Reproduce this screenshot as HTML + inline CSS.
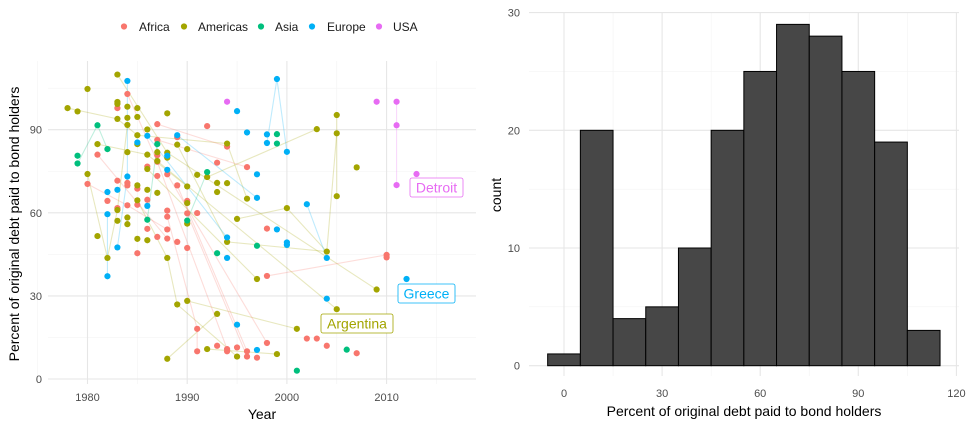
<!DOCTYPE html>
<html><head><meta charset="utf-8"><style>
body{margin:0;background:#fff;width:967px;height:426px;overflow:hidden;font-family:"Liberation Sans",sans-serif}
svg text{font-family:"Liberation Sans",sans-serif}
</style></head><body>
<svg id="c" width="967" height="426" xmlns="http://www.w3.org/2000/svg"></svg>
<script>
// ---- scatter data ----
const regions = ["Africa","Americas","Asia","Europe","USA"];
const regionColors = ["#F8766D","#A3A500","#00BF7D","#00B0F6","#E76BF3"];
const americasPts = [[1978,97.8],[1979,96.6],[1980,104.7],[1980,74],[1981,84.8],[1981,51.6],[1982,43.7],[1983,109.9],[1983,100],[1983,99.3],[1983,93.9],[1983,61],[1983,57.1],[1984,98.3],[1984,94.3],[1984,91.7],[1984,81.9],[1984,58.3],[1984,55.9],[1985,97.8],[1985,94.6],[1985,88],[1985,84.8],[1985,69.9],[1985,64.5],[1985,50.6],[1986,90.1],[1986,81],[1986,75.8],[1986,68.3],[1986,50.1],[1987,81.9],[1987,78.7],[1987,67.2],[1988,95.9],[1988,81.7],[1988,79.9],[1988,43.7],[1988,7.3],[1989,84.6],[1989,26.9],[1990,83],[1990,69.5],[1990,63.5],[1990,56.1],[1990,28.2],[1991,73.7],[1992,72.9],[1992,10.8],[1993,70.8],[1993,67.5],[1993,23.5],[1994,85],[1994,70.7],[1994,49.5],[1995,57.8],[1995,8.1],[1996,65.1],[1997,36.1],[1999,9],[2000,61.7],[2001,18.1],[2003,90.2],[2004,46],[2005,95.3],[2005,88.7],[2005,66],[2005,25.2],[2007,76.4],[2009,32.3]];
const africaPts = [[1980,70.4],[1981,81],[1982,64.3],[1983,97.8],[1983,71.6],[1983,61.7],[1984,102.9],[1984,70.8],[1984,69.9],[1984,62.7],[1985,68.7],[1985,62.9],[1985,45.4],[1986,76.7],[1986,64.7],[1986,54.2],[1987,92],[1987,86.3],[1987,80.8],[1987,78.4],[1987,73.3],[1987,51.3],[1988,73.9],[1988,60.8],[1988,58.6],[1988,54],[1988,50.7],[1989,87.3],[1989,69.9],[1989,49.5],[1990,64.3],[1990,59.8],[1990,47.3],[1991,59.9],[1991,18.1],[1991,10],[1992,91.3],[1993,78.1],[1993,12],[1994,83.9],[1994,10.8],[1994,10],[1995,11.4],[1996,76.5],[1996,10],[1996,8.1],[1997,7.7],[1998,54.3],[1998,37.2],[1998,13],[2002,14.6],[2003,14.6],[2004,12],[2007,9.3],[2010,44.8],[2010,43.9]];
const asiaPts = [[1979,80.6],[1979,77.8],[1981,91.6],[1982,83],[1986,57.5],[1987,84.8],[1990,57.2],[1992,74.7],[1993,45.4],[1997,48.1],[1999,88.4],[1999,85],[2001,3],[2006,10.6]];
const europePts = [[1982,67.5],[1982,59.5],[1982,37.1],[1983,68.3],[1983,47.5],[1984,107.6],[1984,73.1],[1985,85.4],[1986,87.8],[1986,62.5],[1988,75.5],[1988,80.6],[1989,88],[1994,51.1],[1994,43.7],[1995,96.7],[1995,19.6],[1996,89],[1997,73.9],[1997,65.4],[1997,10.5],[1998,88.3],[1998,85.2],[1999,108.3],[1999,54],[2000,82],[2000,49.3],[2000,48.4],[2002,63.1],[2004,29],[2004,43.7],[2012,36.1]];
const usaPts = [[1994,100.1],[2009,100.1],[2011,100.1],[2011,91.6],[2011,70],[2013,74]];
// country paths: [region index, year, value, year, value, ...]
const countryPaths = [
 [1,1980,74,1982,43.7,1983,61,1984,91.7],[1,1981,84.8,1986,81,1990,69.5],[1,1988,7.3,1993,23.5],[1,1990,28.2,2001,18.1],
 [1,1992,72.9,2003,90.2],[1,1995,57.8,2000,61.7,2004,46,2005,88.7],[1,2005,95.3,2005,66],[1,1989,84.6,1994,49.5,2004,46],
 [1,1988,81.7,2009,32.3],[1,1987,78.7,2005,25.2],[1,1992,10.8,1999,9],[1,1994,85,1996,65.1],[1,1986,75.8,1997,36.1],
 [1,1978,97.8,1983,93.9,1985,88,1994,85],[1,1983,109.9,1988,81.7],[1,1985,64.5,1988,43.7,1989,26.9,1995,8.1],
 [0,1980,70.4,1984,62.7,1988,54],[0,1981,81,1988,50.7],[0,1998,37.2,2010,44.8],[0,1987,92,1994,83.9],[0,1987,86.3,1996,76.5],
 [0,1988,73.9,1998,13],[0,1988,58.6,1991,18.1,1991,10],[0,1990,59.8,1996,8.1],[0,1984,102.9,1987,78.4,1994,10.8],[0,1989,69.9,1996,10],
 [3,1982,59.5,1982,37.1],[3,1983,47.5,1984,73.1,1984,107.6],[3,1998,85.2,1999,108.3,2000,82],[3,2002,63.1,2004,43.7],[3,1986,87.8,1994,51.1],[3,1989,88,1997,65.4],
 [2,1979,77.8,1981,91.6,1982,83],[2,1990,57.2,1992,74.7],[2,1986,57.5,1987,84.8],
 [4,2011,100.1,2011,70]
];
// ---- histogram data ----
const binCenters = [0,10,20,30,40,50,60,70,80,90,100,110];
const binCounts = [1,20,4,5,10,20,25,29,28,25,19,3];
const histXTicks = [0,30,60,90,120];
const histYTicks = [0,10,20,30];
const yearTicks = [1980,1990,2000,2010];
const pctTicks = [0,30,60,90];

const NS="http://www.w3.org/2000/svg";
const svg=document.getElementById('c');
function mk(tag,attrs,parent){const e=document.createElementNS(NS,tag);for(const k in attrs)e.setAttribute(k,attrs[k]);(parent||svg).appendChild(e);return e;}

// ===== left scatter =====
const L={x0:48,x1:476,y0:61,y1:384};
const sx=y=>87.5+(y-1980)*9.97;
const sy=v=>379-v*2.77;
const gL=mk('g',{});


for(let v=15;v<=105;v+=30){const l=mk('line',{x1:L.x0,x2:L.x1,y1:sy(v),y2:sy(v),stroke:'#f3f3f3','stroke-width':0.6},gL);}
for(let y=1975;y<=2015;y+=10){const l=mk('line',{x1:sx(y),x2:sx(y),y1:L.y0,y2:L.y1,stroke:'#f3f3f3','stroke-width':0.6},gL);}
pctTicks.forEach(v=>{const l=mk('line',{x1:L.x0,x2:L.x1,y1:sy(v),y2:sy(v),stroke:'#e6e6e6','stroke-width':1.1},gL);
 const t=mk('text',{x:42,y:sy(v)+4,'text-anchor':'end','font-size':11,fill:'#4d4d4d'},gL);t.textContent=v;});
yearTicks.forEach(y=>{const l=mk('line',{x1:sx(y),x2:sx(y),y1:L.y0,y2:L.y1,stroke:'#e6e6e6','stroke-width':1.1},gL);
 const t=mk('text',{x:sx(y),y:401,'text-anchor':'middle','font-size':11,fill:'#4d4d4d'},gL);t.textContent=y;});
countryPaths.forEach(p=>{const r=p[0];let pts=[];for(let i=1;i<p.length;i+=2)pts.push(sx(p[i])+','+sy(p[i+1]));
 const pl=mk('polyline',{points:pts.join(' '),fill:'none',stroke:regionColors[r],'stroke-opacity':0.25,'stroke-width':1.1},gL);
 });
[africaPts,americasPts,asiaPts,europePts,usaPts].forEach((arr,r)=>arr.forEach(d=>{
 const c=mk('circle',{cx:sx(d[0]),cy:sy(d[1]),r:3.1,fill:regionColors[r]},gL);
 }));
function lab(txt,x,y,w,col,name){const g=mk('g',{},gL);
 mk('rect',{x:x,y:y,width:w,height:19,rx:2,fill:'#fff',stroke:col,'stroke-width':0.8},g);
 const t=mk('text',{x:x+w/2,y:y+14.5,'text-anchor':'middle','font-size':14,fill:col},g);t.textContent=txt;}
lab('Detroit',410,178,53,regionColors[4],'detroit-label');
lab('Greece',398,284,57,regionColors[3],'greece-label');
lab('Argentina',321,314,72,regionColors[1],'argentina-label');
let t=mk('text',{x:262,y:419,'text-anchor':'middle','font-size':14,fill:'#000'});t.textContent='Year';
t=mk('text',{x:0,y:0,'text-anchor':'middle','font-size':14,fill:'#000',transform:'translate(19,224) rotate(-90)'});t.textContent='Percent of original debt paid to bond holders';
// legend
const legX=[[124,139],[184,198],[261,275],[312,327],[379,393]];
const gLeg=mk('g',{});
regions.forEach((r,i)=>{const g=mk('g',{},gLeg);
 mk('circle',{cx:legX[i][0],cy:26.5,r:3.1,fill:regionColors[i]},g);
 const tt=mk('text',{x:legX[i][1],y:31,'font-size':12,fill:'#1a1a1a'},g);tt.textContent=r;});

// ===== right histogram =====
const R={x0:529,x1:959,y0:12,y1:376};
const hx=v=>564+v*3.27;
const hy=c=>365.7-c*11.77;
const gR=mk('g',{});
for(let v=15;v<=105;v+=30){const l=mk('line',{x1:hx(v),x2:hx(v),y1:R.y0,y2:R.y1,stroke:'#f3f3f3','stroke-width':0.6},gR);}
for(let c=5;c<=25;c+=10){const l=mk('line',{x1:R.x0,x2:R.x1,y1:hy(c),y2:hy(c),stroke:'#f3f3f3','stroke-width':0.6},gR);}
histXTicks.forEach(v=>{const l=mk('line',{x1:hx(v),x2:hx(v),y1:R.y0,y2:R.y1,stroke:'#e6e6e6','stroke-width':1.1},gR);
 const tt=mk('text',{x:hx(v),y:397,'text-anchor':'middle','font-size':11,fill:'#4d4d4d'},gR);tt.textContent=v;});
histYTicks.forEach(c=>{const l=mk('line',{x1:R.x0,x2:R.x1,y1:hy(c),y2:hy(c),stroke:'#e6e6e6','stroke-width':1.1},gR);
 const tt=mk('text',{x:520,y:hy(c)+4,'text-anchor':'end','font-size':11,fill:'#4d4d4d'},gR);tt.textContent=c;});
binCenters.forEach((b,i)=>{const x0=hx(b-5),x1=hx(b+5);
 const r=mk('rect',{x:x0,y:hy(binCounts[i]),width:x1-x0,height:hy(0)-hy(binCounts[i]),fill:'#474747',stroke:'#000','stroke-width':1},gR);
 });
t=mk('text',{x:744,y:416,'text-anchor':'middle','font-size':14,fill:'#000'});t.textContent='Percent of original debt paid to bond holders';
t=mk('text',{x:0,y:0,'text-anchor':'middle','font-size':14,fill:'#000',transform:'translate(501,195) rotate(-90)'});t.textContent='count';
</script>
</body></html>
